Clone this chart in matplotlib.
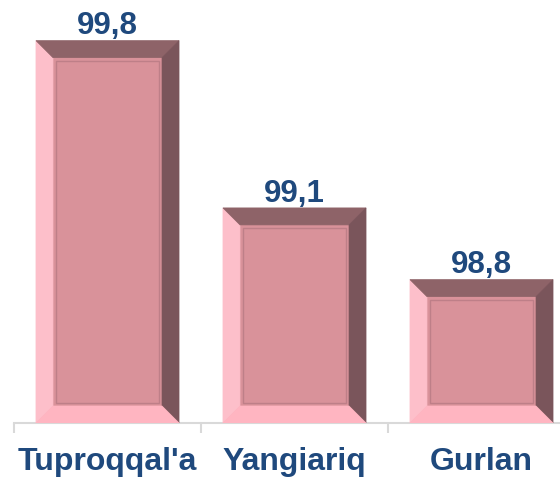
import numpy as np
import matplotlib
matplotlib.use("Agg")
import matplotlib.pyplot as plt
from matplotlib.patches import Polygon, Rectangle

categories = ["Tuproqqal'a", "Yangiariq", "Gurlan"]
values = [99.8, 99.1, 98.8]
value_labels = ["99,8", "99,1", "98,8"]

ymin, ymax = 98.2, 99.97
bar_w = 0.765
bevel_px = 17

face = "#D9929A"
c_left = "#FDBFCA"
c_top = "#8E6368"
c_right = "#7A555B"
c_bottom = "#FFB5C1"
txt_col = "#1F497D"

plt.rcParams['font.family'] = ['Liberation Sans', 'DejaVu Sans']

fig = plt.figure(figsize=(5.6, 4.78), dpi=100)
ax = fig.add_axes([14/560, 55/478, 561/560, 423/478])
ax.set_xlim(-0.5, len(categories) - 0.5)
ax.set_ylim(ymin, ymax)

x = np.arange(len(categories))
ax.bar(x, np.array(values) - ymin, bottom=ymin, width=bar_w, color=face, zorder=2)

# bevel size in data units
fig.canvas.draw()
inv = ax.transData.inverted()
p0 = inv.transform((0, 0))
p1 = inv.transform((bevel_px, bevel_px))
bx, by = p1 - p0
p2 = inv.transform((bevel_px + 3, bevel_px + 3))
lx, ly = p2 - p0

for xi, v in zip(x, values):
    x0, x1 = xi - bar_w / 2, xi + bar_w / 2
    y0, y1 = ymin, v
    a0, a1, b0, b1 = x0 + bx, x1 - bx, y0 + by, y1 - by
    polys = [
        ([(x0, y0), (a0, b0), (a0, b1), (x0, y1)], c_left),
        ([(x0, y1), (a0, b1), (a1, b1), (x1, y1)], c_top),
        ([(x1, y1), (a1, b1), (a1, b0), (x1, y0)], c_right),
        ([(x1, y0), (a1, b0), (a0, b0), (x0, y0)], c_bottom),
    ]
    for pts, col in polys:
        ax.add_patch(Polygon(pts, closed=True, facecolor=col, edgecolor=col, lw=0.5, zorder=3))
    ax.add_patch(Rectangle((x0 + lx, y0 + ly), (x1 - x0) - 2 * lx, (y1 - y0) - 2 * ly,
                           fill=False, edgecolor="#BE7F88", lw=1.0, zorder=4))

for xi, v, lab in zip(x, values, value_labels):
    ax.annotate(lab, (xi, v), xytext=(0, 4.5), textcoords="offset points",
                ha="center", va="baseline", fontsize=22.5, fontweight="bold", color=txt_col)

for s in ["left", "top", "right"]:
    ax.spines[s].set_visible(False)
ax.spines["bottom"].set_color("#D9D9D9")
ax.spines["bottom"].set_linewidth(1.5)
ax.set_yticks([])
ax.set_xticks(x)
ax.set_xticklabels(categories, fontsize=23, fontweight="bold", color=txt_col)
ax.tick_params(axis="x", which="major", length=0, pad=17)
ax.set_xticks(np.arange(-0.5, len(categories)), minor=True)
ax.tick_params(axis="x", which="minor", length=7, width=1.5, color="#D9D9D9")

fig.savefig("out.png", dpi=100)
